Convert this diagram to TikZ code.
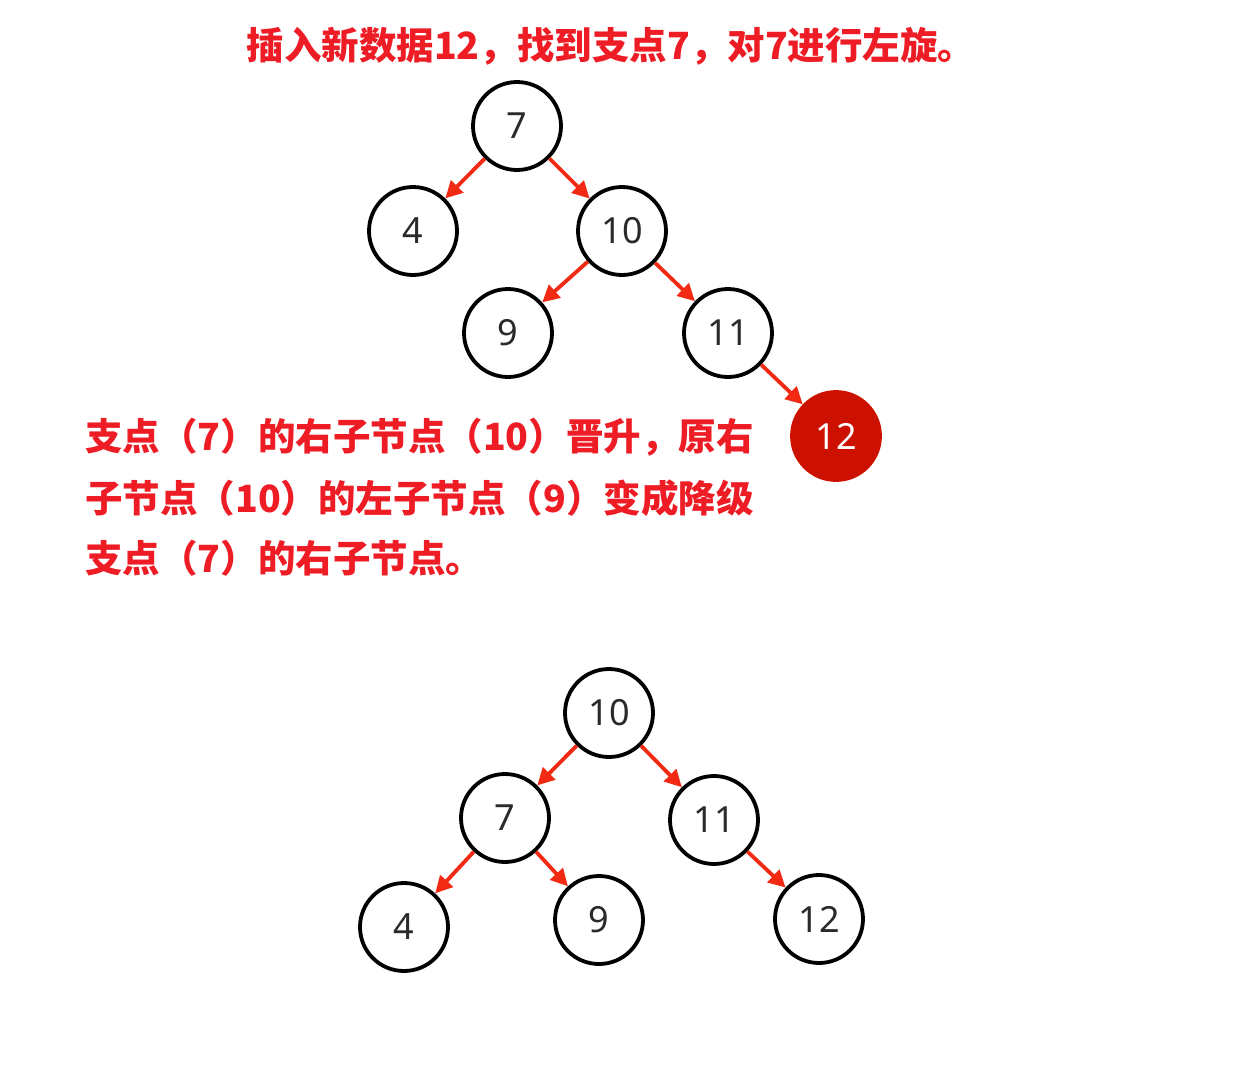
\documentclass[tikz,border=0pt]{standalone}
\usepackage{fontspec}
\setmainfont{Noto Sans}
\newfontfamily\cjk{Noto Sans CJK SC}
\usetikzlibrary{arrows.meta}
\definecolor{txtred}{HTML}{EE1C24}
\definecolor{arrred}{HTML}{F22A14}
\definecolor{nodered}{HTML}{CC1100}
\definecolor{numgray}{HTML}{2A2A2A}
\tikzset{
  tn/.style={circle, draw=black, line width=3.8pt, minimum size=88pt, inner sep=0pt, fill=white,
    font=\fontsize{36}{40}\selectfont, text=numgray},
  rn/.style={circle, fill=nodered, draw=nodered, line width=3.8pt, minimum size=88pt, inner sep=0pt,
    font=\fontsize{36}{40}\selectfont, text=white},
  edge/.style={draw=arrred, line width=3.8pt, -{Triangle[length=17pt,width=17pt]}},
  cjktxt/.style={text=txtred, font=\cjk\bfseries\fontsize{37.5}{61}\selectfont, inner sep=0pt}
}
\begin{document}
\begin{tikzpicture}[x=1pt,y=-1pt]
\useasboundingbox[fill=white] (0,0) rectangle (1245,1071);
\node[cjktxt, anchor=center] (title) at (611,46) {插入新数据12，找到支点7，对7进行左旋。};
% top tree
\node[tn] (a7) at (517,126) {7};
\node[tn] (a4) at (413,231) {4};
\node[tn] (a10) at (622,231) {10};
\node[tn] (a9) at (508,333) {9};
\node[tn] (a11) at (728,333) {11};
\node[rn] (a12) at (836,436) {12};
\draw[edge] (a7) -- (a4);
\draw[edge] (a7) -- (a10);
\draw[edge] (a10) -- (a9);
\draw[edge] (a10) -- (a11);
\draw[edge] (a11) -- (a12);
% text
\node[cjktxt, anchor=west] (l1) at (85,437) {支点（7）的右子节点（10）晋升，原右};
\node[cjktxt, anchor=west] (l2) at (85,498) {子节点（10）的左子节点（9）变成降级};
\node[cjktxt, anchor=west] (l3) at (85,558) {支点（7）的右子节点。};
% bottom tree
\node[tn] (b10) at (609,713) {10};
\node[tn] (b7) at (505,818) {7};
\node[tn] (b11) at (714,820) {11};
\node[tn] (b4) at (404,927) {4};
\node[tn] (b9) at (599,920) {9};
\node[tn] (b12) at (819,919) {12};
\draw[edge] (b10) -- (b7);
\draw[edge] (b10) -- (b11);
\draw[edge] (b7) -- (b4);
\draw[edge] (b7) -- (b9);
\draw[edge] (b11) -- (b12);
\end{tikzpicture}
\end{document}
